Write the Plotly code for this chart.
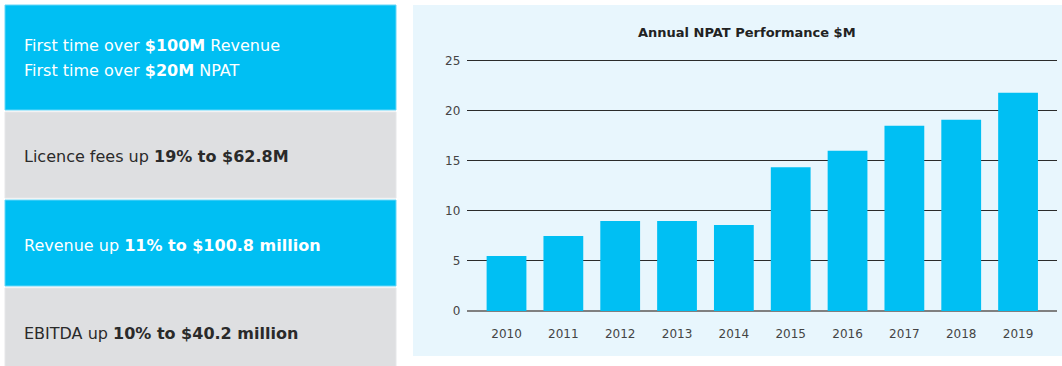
import plotly.graph_objects as go

years = ["2010", "2011", "2012", "2013", "2014", "2015", "2016", "2017", "2018", "2019"]
npat = [5.5, 7.5, 9.0, 9.0, 8.6, 14.35, 16.0, 18.5, 19.1, 21.8]
y_ticks = [0, 5, 10, 15, 20, 25]

title_text = "Annual NPAT Performance $M"
panel_lines = [
    ["First time over <b>$100M</b> Revenue", "First time over <b>$20M</b> NPAT"],
    ["Licence fees up <b>19% to $62.8M</b>"],
    ["Revenue up <b>11% to $100.8 million</b>"],
    ["EBITDA up <b>10% to $40.2 million</b>"],
]

W, H = 1062, 366
CYAN = "#00BFF3"
GRAY = "#DEDFE1"
FONT = "DejaVu Sans"

def px(x):
    return x / W

def py(y):
    return 1 - y / H

# y pixel mapping: value 0 at y=311, value 25 at y=60.7
Y0, Y25 = 311.0, 60.7
YMAX = 25.2
unit = (Y0 - Y25) / 25.0
y_top_px = Y0 - YMAX * unit

fig = go.Figure()
fig.add_trace(go.Bar(x=years, y=npat, marker=dict(color=CYAN, line=dict(width=0)),
                     width=0.7, hoverinfo="x+y"))

shapes = []
shapes.append(dict(type="rect", xref="paper", yref="paper", x0=px(413), x1=px(1062),
                   y0=py(356), y1=py(5), fillcolor="#E8F6FD", line=dict(width=0), layer="below"))
panels = [(5, 110, CYAN, "#66D6F7"), (112, 198, GRAY, "#E6E7E9"),
          (200, 286, CYAN, "#66D6F7"), (288, 368, GRAY, "#E6E7E9")]
for (t, b, c, lc) in panels:
    shapes.append(dict(type="rect", xref="paper", yref="paper", x0=px(5), x1=px(396),
                       y0=py(b), y1=py(t), fillcolor=c, line=dict(width=1, color=lc), layer="below"))

annotations = []
text_pos = [([45, 70], "white"), ([157], "#2a2a2a"), ([245], "white"), ([333], "#2a2a2a")]
for lines, (ys, col) in zip(panel_lines, text_pos):
    for txt, yc in zip(lines, ys):
        annotations.append(dict(text=txt, xref="paper", yref="paper", x=px(22), y=py(yc),
                                xanchor="left", yanchor="middle", showarrow=False, align="left",
                                font=dict(family=FONT, size=16, color=col)))
annotations.append(dict(text="<b>" + title_text + "</b>", xref="paper", yref="paper",
                        x=px(747), y=py(33), xanchor="center", yanchor="middle", showarrow=False,
                        font=dict(family=FONT, size=13, color="#222222")))

fig.update_layout(
    width=W, height=H,
    autosize=False,
    margin=dict(l=0, r=0, t=0, b=0, pad=0, autoexpand=False),
    paper_bgcolor="white",
    plot_bgcolor="rgba(0,0,0,0)",
    showlegend=False,
    shapes=shapes,
    annotations=annotations,
    xaxis=dict(domain=[px(467.3), px(1056.7)], range=[-0.69, 9.68], showgrid=False,
               showline=False, ticks="", automargin=False, ticklabelstandoff=14,
               tickfont=dict(family=FONT, size=12, color="#444444"), fixedrange=True),
    yaxis=dict(domain=[1 - Y0 / H, 1 - y_top_px / H], range=[0, YMAX], tickvals=y_ticks,
               showgrid=True, gridcolor="#2b2b2b", gridwidth=1.3,
               zeroline=True, zerolinecolor="#808080", zerolinewidth=1.6,
               showline=False, ticks="", ticklabelstandoff=6, automargin=False,
               tickfont=dict(family=FONT, size=12, color="#444444"), fixedrange=True),
)

fig.write_html("out.html", config={"responsive": False, "displayModeBar": False},
               post_script="document.body.style.margin='0';document.body.style.overflow='hidden';")
